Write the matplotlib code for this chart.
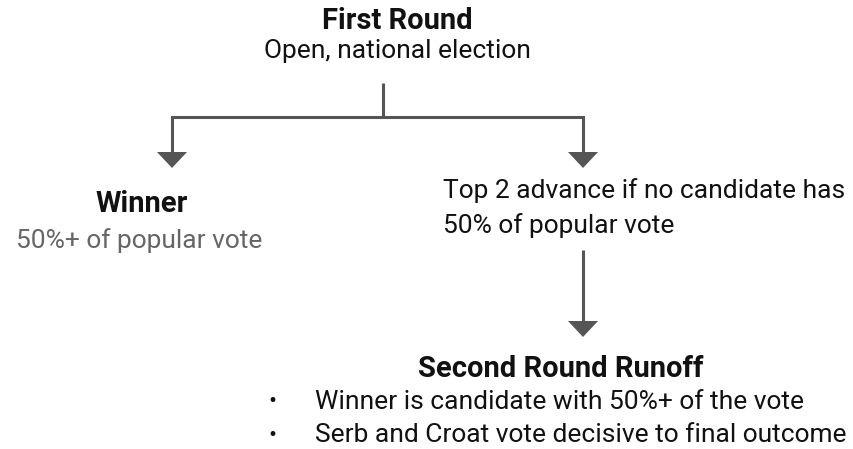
import matplotlib
matplotlib.use("Agg")
import matplotlib.pyplot as plt
from matplotlib.patches import Polygon

plt.rcParams['font.family'] = ['Roboto', 'DejaVu Sans']

# node texts
first_title = "First Round"
first_sub = "Open, national election"
winner_title = "Winner"
winner_sub = "50%+ of popular vote"
advance_lines = ["Top 2 advance if no candidate has", "50% of popular vote"]
runoff_title = "Second Round Runoff"
runoff_bullets = ["Winner is candidate with 50%+ of the vote",
                  "Serb and Croat vote decisive to final outcome"]

line_col = '#555555'
txt_col = '#111111'
fs_title = 21
fs = 19

fig = plt.figure(figsize=(8.54, 4.49), dpi=100)
ax = fig.add_axes([0, 0, 1, 1])
ax.set_xlim(0, 854)
ax.set_ylim(449, 0)
ax.axis('off')


def arrow_head(x, y_top, y_tip, half=15):
    p = Polygon([[x - half, y_top], [x + half, y_top], [x, y_tip]],
                closed=True, facecolor=line_col, edgecolor='none')
    ax.add_patch(p)


# first round
ax.text(397, 29, first_title, ha='center', va='baseline', fontsize=fs_title,
        fontweight='bold', color=txt_col)
ax.text(397, 58, first_sub, ha='center', va='baseline', fontsize=fs,
        color=txt_col)

# branch lines
ax.plot([383, 383], [83, 117], color=line_col, lw=2.2, solid_capstyle='butt')
ax.plot([172, 583], [117, 117], color=line_col, lw=2.2, solid_capstyle='projecting')
ax.plot([172, 172], [117, 153], color=line_col, lw=2.2, solid_capstyle='butt')
ax.plot([583, 583], [117, 153], color=line_col, lw=2.2, solid_capstyle='butt')
arrow_head(172, 152, 168)
arrow_head(583, 152, 168)

# winner node
ax.text(142, 212, winner_title, ha='center', va='baseline', fontsize=fs_title,
        fontweight='bold', color=txt_col)
ax.text(139, 248, winner_sub, ha='center', va='baseline', fontsize=fs,
        color='#666666')

# advance node
for i, s in enumerate(advance_lines):
    ax.text(443, 198 + i * 35, s, ha='left', va='baseline', fontsize=fs,
            color=txt_col)

# arrow to runoff
ax.plot([583, 583], [250, 322], color=line_col, lw=2.2, solid_capstyle='butt')
arrow_head(583, 321, 337)

# runoff node
ax.text(561, 377, runoff_title, ha='center', va='baseline', fontsize=fs_title,
        fontweight='bold', color=txt_col)
for i, s in enumerate(runoff_bullets):
    y = 409 + i * 33
    ax.text(272, y - 7, "\u2022", ha='center', va='center', fontsize=17,
            color=txt_col)
    ax.text(315, y, s, ha='left', va='baseline', fontsize=fs, color=txt_col)

fig.savefig('out.png', dpi=100)
